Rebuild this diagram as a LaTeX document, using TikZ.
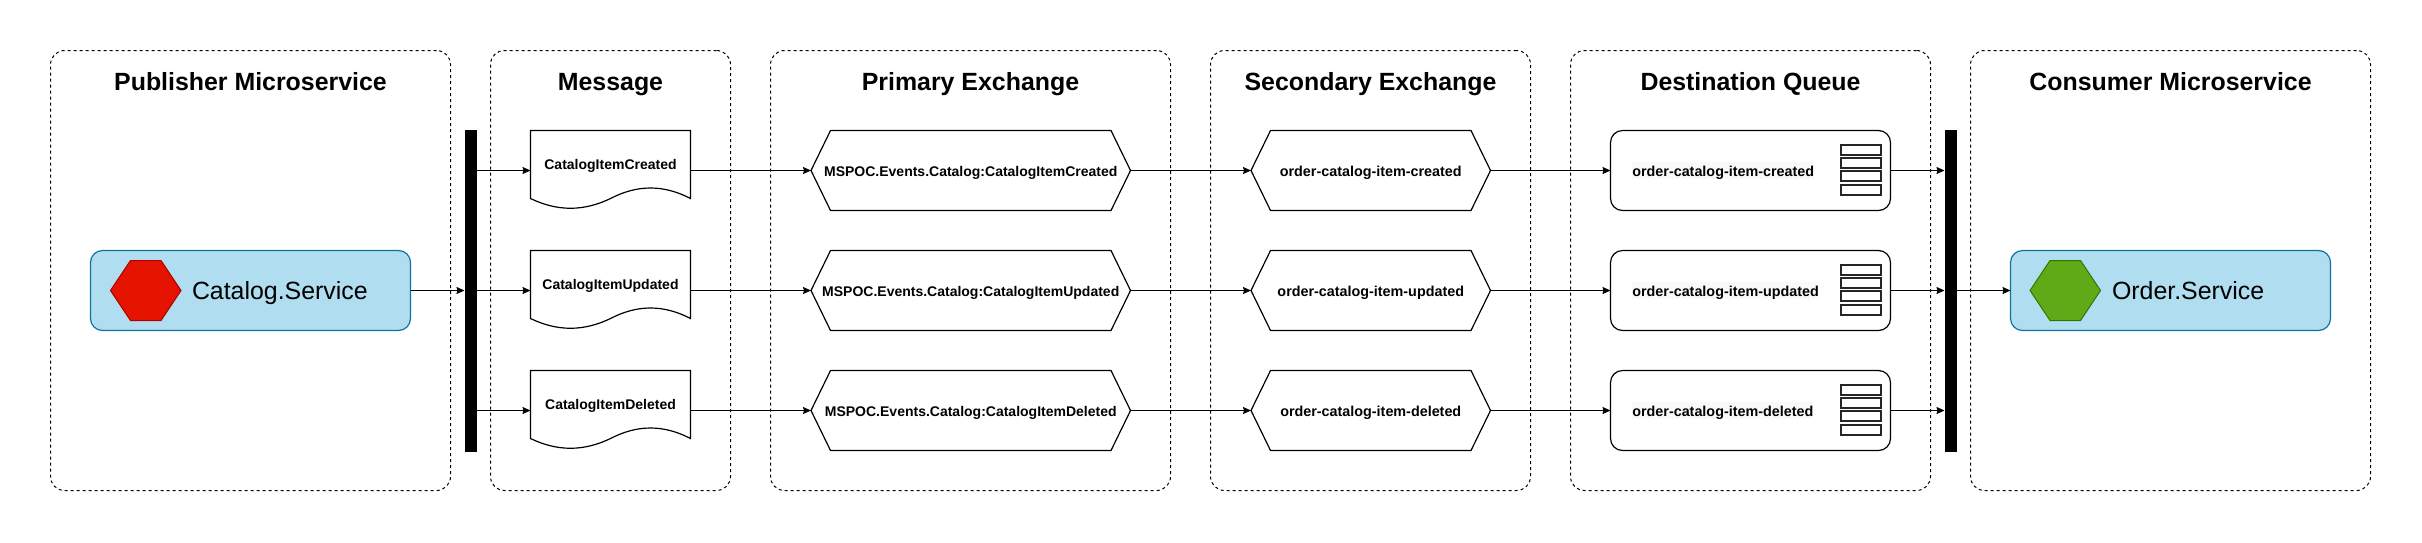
\documentclass[tikz,border=0pt]{standalone}
\usepackage{fontspec}
\setmainfont{Liberation Sans}
\usetikzlibrary{arrows.meta,positioning}
\newcommand{\hexoutline}[2]{(#1.west) -- ([xshift=#2]#1.north west) -- ([xshift=-#2]#1.north east) -- (#1.east) -- ([xshift=-#2]#1.south east) -- ([xshift=#2]#1.south west) -- cycle}
\tikzset{
  x=1pt,y=-1pt,
  every node/.style={inner sep=0pt,outer sep=0pt,text=black},
  panel/.style={draw=black,line width=1pt,dash pattern=on 3pt off 3pt,rounded corners=14pt,minimum height=440pt},
  paneltitle/.style={font=\fontsize{24.9}{28}\selectfont\bfseries,anchor=base},
  slot/.style={minimum height=80pt},
  msgtext/.style={font=\fontsize{14}{17}\selectfont\bfseries,text height=14pt,text depth=3pt},
  keytext/.style={font=\fontsize{14.35}{17}\selectfont\bfseries,text height=14pt,text depth=3pt},
  qbox/.style={slot,draw=black,line width=1.2pt,rounded corners=12pt,minimum width=280pt},
  qlabel/.style={keytext,fill=qbg,anchor=west},
  qcell/.style={draw=black!85,fill=white,line width=2pt,minimum width=40pt,minimum height=10pt},
  bar/.style={fill=black,minimum width=12pt,minimum height=322pt},
  service/.style={draw=svcline,fill=svcfill,line width=1.2pt,rounded corners=12pt,minimum height=80pt,minimum width=320pt},
  svctext/.style={font=\fontsize{24.9}{28}\selectfont,anchor=base west},
  hexline/.style={draw=black,line width=1.2pt},
  link/.style={draw=black,line width=1.2pt,-{Stealth[length=8pt,width=7pt,inset=1pt]}},
}
\definecolor{qbg}{HTML}{F8F9FA}
\definecolor{svcfill}{HTML}{B1DDF0}
\definecolor{svcline}{HTML}{10739E}
\definecolor{redfill}{HTML}{E51400}
\definecolor{redline}{HTML}{B20000}
\definecolor{greenfill}{HTML}{60A917}
\definecolor{greenline}{HTML}{2D7600}
\begin{document}
\begin{tikzpicture}
\useasboundingbox (0,0) rectangle (2422,542);
\fill[white] (0,0) rectangle (2422,542);
% panels
\node[panel,minimum width=400pt] (pub)  at (250.5,270.5) {};
\node[panel,minimum width=240pt] (msg)  at (610.5,270.5) {};
\node[panel,minimum width=400pt] (pri)  at (970.5,270.5) {};
\node[panel,minimum width=320pt] (sec)  at (1370.5,270.5) {};
\node[panel,minimum width=360pt] (dst)  at (1750.5,270.5) {};
\node[panel,minimum width=400pt] (con)  at (2170.5,270.5) {};
\node[paneltitle] (tpub) at (250.5,90) {Publisher Microservice};
\node[paneltitle] (tmsg) at (610.5,90) {Message};
\node[paneltitle] (tpri) at (970.5,90) {Primary Exchange};
\node[paneltitle] (tsec) at (1370.5,90) {Secondary Exchange};
\node[paneltitle] (tdst) at (1750.5,90) {Destination Queue};
\node[paneltitle] (tcon) at (2170.5,90) {Consumer Microservice};
% bars
\node[bar] (barA) at (470.5,290.5) {};
\node[bar] (barB) at (1950.5,290.5) {};
% services
\node[service] (catalog) at (250.5,290.5) {};
\node[minimum width=70.5pt,minimum height=60pt] (cicon) at (145.75,290.5) {};
\fill[redfill,draw=redline,line width=1pt] \hexoutline{cicon}{20};
\node[svctext] (ctext) at (192,299) {Catalog.Service};
\node[service] (order) at (2170.5,290.5) {};
\node[minimum width=70.5pt,minimum height=60pt] (oicon) at (2065.25,290.5) {};
\fill[greenfill,draw=greenline,line width=1pt] \hexoutline{oicon}{20};
\node[svctext] (otext) at (2112,299) {Order.Service};
% rows
\foreach \n/\y/\cap/\low in {1/170.5/Created/created,2/290.5/Updated/updated,3/410.5/Deleted/deleted}{
  % message document
  \node[slot,minimum width=160pt] (doc\n) at (610.5,\y) {};
  \draw[hexline] ([yshift=12pt]doc\n.south west)
     -- (doc\n.north west) -- (doc\n.north east) -- ([yshift=12pt]doc\n.south east)
     .. controls ([xshift=-27pt,yshift=26pt]doc\n.south east) and ([xshift=27pt,yshift=26pt]doc\n.south) .. ([yshift=12pt]doc\n.south)
     .. controls ([xshift=-27pt,yshift=-1pt]doc\n.south) and ([xshift=27pt,yshift=-1pt]doc\n.south west) .. ([yshift=12pt]doc\n.south west) -- cycle;
  \node[msgtext] (doctext\n) at (610.5,\y-6.7) {CatalogItem\cap};
  % exchanges
  \node[slot,minimum width=319.5pt,msgtext] (prim\n) at (970.75,\y) {MSPOC.Events.Catalog:CatalogItem\cap};
  \draw[hexline] \hexoutline{prim\n}{19.5};
  \node[slot,minimum width=239.5pt,keytext] (secd\n) at (1370.75,\y) {order-catalog-item-\low};
  \draw[hexline] \hexoutline{secd\n}{19.5};
  % queue
  \node[qbox] (queue\n) at (1750.5,\y) {};
  \node[qlabel] (qtext\n) at (1632.3,\y) {order-catalog-item-\low};
  \node[qcell] (cellA\n) at (1860.5,\y-20.5) {};
  \node[qcell] (cellB\n) at (1860.5,\y-7.3) {};
  \node[qcell] (cellC\n) at (1860.5,\y+5.8) {};
  \node[qcell] (cellD\n) at (1860.5,\y+19) {};
  % connectors
  \draw[link] (barA.east |- doc\n.west) -- (doc\n.west);
  \draw[link] (doc\n.east) -- (prim\n.west);
  \draw[link] (prim\n.east) -- (secd\n.west);
  \draw[link] (secd\n.east) -- (queue\n.west);
  \draw[link] (queue\n.east) -- (barB.west |- queue\n.east);
}
\draw[link] (catalog.east) -- (barA.west |- catalog.east);
\draw[link] (barB.east |- order.west) -- (order.west);
\end{tikzpicture}
\end{document}
